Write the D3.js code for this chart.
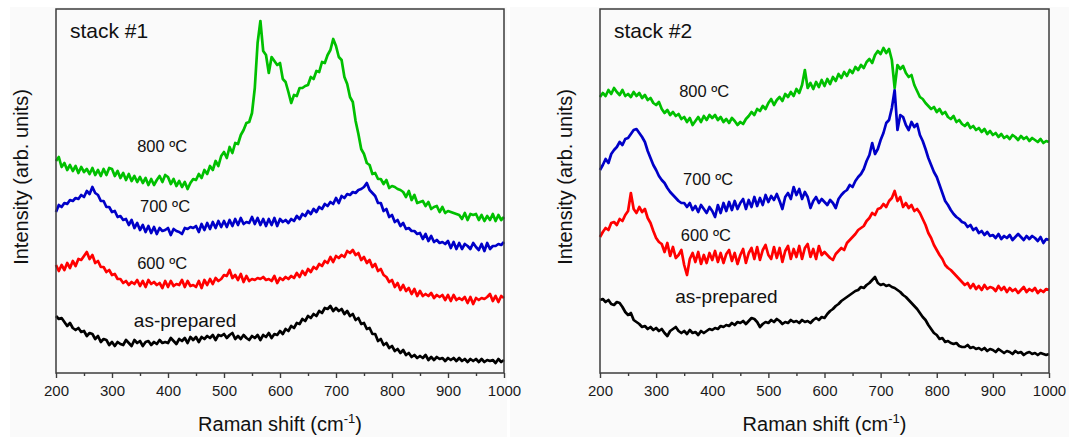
<!DOCTYPE html>
<html>
<head>
<meta charset="utf-8">
<script src="https://cdn.jsdelivr.net/npm/d3@7"></script>
<style>
    html, body { margin: 0; padding: 0; background: #ffffff; }
    svg { display: block; font-family: "Liberation Sans", Arial, sans-serif; }
</style>
</head>
<body>
<svg id="chart" width="1069" height="437"></svg>
<script>
// Raman shift grid (cm-1), one point every 5 cm-1
const shift = d3.range(200, 1001, 5);
const xTicks = [200, 300, 400, 500, 600, 700, 800, 900, 1000];
const xMinorTicks = [250, 350, 450, 550, 650, 750, 850, 950];
const sampleLabels = ['as-prepared', '600 ºC', '700 ºC', '800 ºC'];
const sampleColors = ['#000000', '#ff0000', '#0000c8', '#00c000'];

// stack #1, intensity (arb. units, offset-stacked)
const s1Prepared = [
    57,54,55,51,47,50,45,43,45,41,42,37,40,39,34,37,31,34,33,28,
    31,27,31,29,28,33,30,27,33,30,32,27,31,32,28,31,29,33,30,31,
    30,35,32,29,34,32,35,30,36,33,36,31,36,34,37,35,38,33,38,37,
    39,35,38,40,34,37,34,38,35,33,37,35,38,33,38,36,40,35,39,38,
    42,39,44,42,47,45,50,49,54,52,57,55,59,57,62,60,65,64,67,62,
    65,62,64,59,62,57,59,53,55,49,50,44,45,39,39,32,34,28,30,25,
    27,22,24,20,23,18,20,16,18,15,17,15,18,13,16,13,16,14,15,12,
    15,13,15,12,15,12,14,11,14,12,14,11,14,11,13,12,13,10,14,11,
    13];
const s1T600 = [
    108,102,108,103,110,105,112,107,114,113,117,121,114,118,110,112,106,106,101,103,
    98,99,94,94,90,92,88,91,89,93,87,92,86,93,89,91,88,90,85,92,
    86,92,87,89,88,93,86,92,87,88,86,92,85,93,88,94,89,95,92,94,
    98,97,103,95,98,93,99,91,97,92,94,93,95,94,96,93,94,92,97,90,
    95,93,96,94,97,95,100,96,102,98,104,101,106,104,109,107,112,110,116,111,
    117,115,118,116,122,120,123,118,120,113,116,110,113,106,109,102,104,98,96,91,
    93,86,90,83,88,82,85,79,84,77,82,77,79,77,80,75,78,76,78,73,
    78,72,78,73,75,73,76,70,76,69,75,73,75,74,76,79,72,77,71,77,
    75];
const s1T700 = [
    161,168,166,170,169,173,172,175,174,178,176,182,179,186,180,178,172,172,166,166,
    161,162,156,157,153,154,148,153,145,150,143,148,141,147,140,146,139,145,142,143,
    145,138,144,142,141,139,145,144,146,145,147,141,149,143,150,144,151,145,152,146,
    152,146,153,147,154,148,155,149,151,150,156,149,155,148,154,147,154,148,155,147,
    154,151,153,150,154,152,157,154,159,157,162,159,164,161,166,164,169,167,171,169,
    175,170,177,175,179,178,181,180,183,184,186,190,183,180,177,170,170,162,164,156,
    158,151,153,147,150,144,145,142,142,139,140,134,139,132,137,131,133,130,131,129,
    132,125,131,124,130,124,129,127,124,130,126,123,129,122,130,124,127,127,129,128,
    131];
const s1T800 = [
    212,216,206,210,203,208,202,207,200,206,201,204,199,205,198,203,197,204,198,205,
    204,197,202,195,200,193,199,192,197,191,196,190,195,188,194,188,193,197,191,198,
    196,189,194,187,192,186,191,184,190,194,193,199,195,203,199,207,203,212,207,217,
    221,215,226,220,230,229,238,243,250,251,260,285,330,352,322,318,300,316,312,308,
    310,294,291,281,270,278,277,285,285,287,288,296,294,302,301,311,310,318,323,334,
    327,316,313,296,289,276,271,252,239,224,219,210,208,199,200,194,194,189,193,185,
    187,186,184,183,181,176,182,173,178,170,171,172,167,171,164,166,167,161,166,160,
    162,161,160,159,158,154,160,153,159,158,159,153,158,152,157,153,159,152,158,153,
    156];

// stack #2
const s2Prepared = [
    73,74,71,73,69,68,71,70,66,61,58,60,53,51,49,46,47,44,46,43,
    45,42,44,40,37,42,44,46,42,40,42,39,43,40,41,38,42,40,42,44,
    43,45,44,47,46,48,47,50,48,51,50,52,49,52,55,54,51,46,49,51,
    50,53,51,54,52,49,51,50,53,51,52,50,53,51,52,50,53,55,53,56,
    55,59,62,64,67,69,72,74,76,78,80,82,83,86,85,88,90,93,96,90,
    88,89,87,88,86,85,83,81,78,76,73,70,67,64,60,56,53,48,44,40,
    38,34,35,31,32,30,29,30,27,26,26,28,25,26,24,25,23,25,22,24,
    23,21,24,22,20,22,21,19,22,20,21,18,20,21,19,20,18,20,19,18,
    19];
const s2T600 = [
    136,141,145,143,150,151,148,154,152,158,162,180,164,160,166,161,164,155,150,142,
    135,131,129,121,130,117,126,115,118,123,108,98,114,120,111,121,109,118,110,120,
    113,122,111,120,110,119,123,112,120,109,118,124,110,120,125,114,126,113,123,128,
    118,114,126,115,125,111,122,127,114,124,116,127,114,125,129,116,124,114,127,118,
    121,118,115,113,119,122,125,123,130,133,136,139,143,145,147,152,155,160,158,164,
    165,169,166,172,175,182,172,176,166,170,165,168,162,164,160,154,148,140,135,128,
    123,118,114,108,105,103,100,97,94,91,88,90,85,89,84,87,83,88,84,86,
    85,82,87,83,86,81,85,82,84,80,83,86,81,84,82,85,80,83,81,84,
    83];
const s2T700 = [
    203,208,214,210,219,223,226,231,228,234,235,239,243,244,240,236,231,222,215,208,
    203,197,193,190,185,181,178,175,172,170,170,166,170,163,167,161,168,164,160,166,
    162,156,168,160,170,162,171,163,172,164,170,174,164,173,166,176,167,175,168,178,
    171,177,173,179,172,164,176,180,174,186,178,184,174,181,176,165,172,176,170,174,
    171,168,173,170,165,174,178,181,183,188,186,192,196,199,204,212,218,230,219,224,
    233,240,250,253,265,283,243,258,256,248,243,251,246,249,238,232,224,215,208,201,
    196,188,180,172,168,163,159,156,154,151,150,146,148,143,145,140,142,138,141,137,
    138,135,139,134,137,135,138,133,136,139,136,133,137,134,137,135,132,136,130,134,
    133];
const s2T800 = [
    276,280,277,283,279,285,281,278,283,277,279,276,281,277,280,275,278,273,275,270,
    268,271,264,260,263,258,261,257,259,254,256,251,255,248,252,256,251,257,253,258,
    255,258,253,256,251,254,250,255,252,248,251,249,254,257,261,258,264,262,267,264,
    270,274,268,273,276,272,279,276,281,277,284,280,288,303,285,290,284,291,286,293,
    287,294,289,296,292,299,295,301,297,303,300,306,303,308,305,311,314,310,318,322,
    319,325,320,324,313,285,308,304,307,300,296,298,288,282,276,274,270,267,264,266,
    261,264,259,261,256,254,257,251,253,249,247,250,245,247,243,245,241,244,239,242,
    238,240,236,239,235,237,234,238,236,233,237,234,236,232,235,233,231,234,230,232,
    231];

const svg = d3.select('#chart');

// layout of the two panels (pixels) and where the series labels sit (data coords)
const panels = [
    {
        title: 'stack #1',
        bg: [10, 7, 497, 430],
        left: 56, right: 504, top: 9, bottom: 373,
        series: [s1Prepared, s1T600, s1T700, s1T800],
        labelAt: [[339, 46, 19], [345, 104, 16.5], [350, 161, 16.5], [345, 221, 16.5]]
    },
    {
        title: 'stack #2',
        bg: [510, 7, 559, 430],
        left: 600, right: 1049, top: 9, bottom: 373,
        series: [s2Prepared, s2T600, s2T700, s2T800],
        labelAt: [[334, 70, 19], [344, 132, 16.5], [348, 188, 16.5], [341, 276, 16.5]]
    }
];

// backgrounds first so no panel covers the other's tick labels
panels.forEach(function(p) {
    svg.append('rect')
        .attr('x', p.bg[0]).attr('y', p.bg[1])
        .attr('width', p.bg[2]).attr('height', p.bg[3])
        .attr('fill', '#fafafa');
});

panels.forEach(function(p) {
    const x = d3.scaleLinear().domain([200, 1000]).range([p.left, p.right]);
    const y = d3.scaleLinear().domain([0, 364]).range([p.bottom, p.top]);

    const g = svg.append('g');

    // curves
    const line = d3.line()
        .x(function(d, i) { return x(shift[i]); })
        .y(function(d) { return y(d); });

    p.series.forEach(function(values, k) {
        g.append('path')
            .datum(values)
            .attr('d', line)
            .attr('fill', 'none')
            .attr('stroke', sampleColors[k])
            .attr('stroke-width', 2.7)
            .attr('stroke-linejoin', 'round');
    });

    // frame
    g.append('rect')
        .attr('x', p.left).attr('y', p.top)
        .attr('width', p.right - p.left).attr('height', p.bottom - p.top)
        .attr('fill', 'none')
        .attr('stroke', '#3c3c3c')
        .attr('stroke-width', 1.5);

    // bottom axis, major + minor ticks pointing outward
    const axis = g.append('g')
        .attr('transform', 'translate(0,' + p.bottom + ')')
        .call(d3.axisBottom(x).tickValues(xTicks).tickFormat(d3.format('d'))
            .tickSize(5).tickSizeOuter(0).tickPadding(7));
    axis.select('.domain').remove();
    axis.selectAll('line').attr('stroke', '#3c3c3c').attr('stroke-width', 1.4);
    axis.selectAll('text')
        .attr('font-size', 15)
        .attr('fill', '#1a1a1a')
        .style('font-family', '"Liberation Sans", Arial, sans-serif');

    const minor = g.append('g')
        .attr('transform', 'translate(0,' + p.bottom + ')')
        .call(d3.axisBottom(x).tickValues(xMinorTicks).tickSize(3).tickFormat(''));
    minor.select('.domain').remove();
    minor.selectAll('line').attr('stroke', '#3c3c3c').attr('stroke-width', 1.4);

    // panel title
    g.append('text')
        .attr('x', p.left + 14)
        .attr('y', 38)
        .attr('font-size', 21)
        .attr('fill', '#111')
        .text(p.title);

    // series labels
    p.labelAt.forEach(function(pos, k) {
        g.append('text')
            .attr('x', x(pos[0]))
            .attr('y', y(pos[1]))
            .attr('font-size', pos[2])
            .attr('fill', '#111')
            .text(sampleLabels[k]);
    });

    // axis titles
    const xTitle = g.append('text')
        .attr('x', (p.left + p.right) / 2)
        .attr('y', 431)
        .attr('text-anchor', 'middle')
        .attr('font-size', 20)
        .attr('fill', '#111');
    xTitle.append('tspan').text('Raman shift (cm');
    xTitle.append('tspan').attr('dy', -8).attr('font-size', 13).text('-1');
    xTitle.append('tspan').attr('dy', 8).text(')');

    g.append('text')
        .attr('transform', 'translate(' + (p.left - 28) + ',177) rotate(-90)')
        .attr('text-anchor', 'middle')
        .attr('font-size', 20)
        .attr('fill', '#111')
        .text('Intensity (arb. units)');
});
</script>
</body>
</html>
